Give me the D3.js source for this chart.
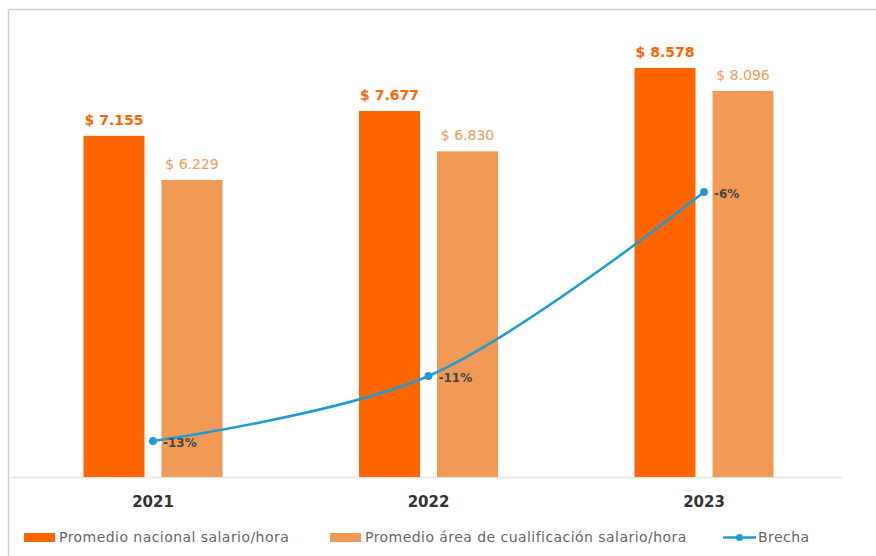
<!DOCTYPE html>
<html>
<head>
<meta charset="utf-8">
<script src="https://cdn.jsdelivr.net/npm/d3@7"></script>
<style>
  html, body { margin: 0; padding: 0; background: #fff; }
  svg { display: block; }
  text { font-family: "DejaVu Sans", sans-serif; }
</style>
</head>
<body>
<svg id="chart" width="876" height="556"></svg>
<script>
const years = ["2021", "2022", "2023"];
const nacional = [7155, 7677, 8578];
const area = [6229, 6830, 8096];
const brecha = [-12.94, -11.03, -5.62];
const brechaLabels = ["-13%", "-11%", "-6%"];
const seriesNames = ["Promedio nacional salario/hora", "Promedio área de cualificación salario/hora", "Brecha"];
const colorNacional = "#ff6600";
const colorArea = "#f19a56";
const colorBrecha = "#1f9ad6";

const fmt = v => "$ " + d3.format(",")(v).replace(/,/g, ".");

const svg = d3.select("#chart");

// frame lines (top + left)
svg.append("line").attr("x1", 8.5).attr("x2", 876).attr("y1", 9.5).attr("y2", 9.5)
  .attr("stroke", "#cfcfcf").attr("stroke-width", 1.5);
svg.append("line").attr("x1", 8.5).attr("x2", 8.5).attr("y1", 9.5).attr("y2", 556)
  .attr("stroke", "#cfcfcf").attr("stroke-width", 1.5);

const x0 = d3.scaleBand().domain(years).range([15.25, 841.75]).padding(0);
const bw = x0.bandwidth();
const x1 = d3.scaleBand().domain(["nacional", "area"]).range([bw / 2 - 69.5, bw / 2 + 69.5])
  .paddingInner(0.218).paddingOuter(0);
const y = d3.scaleLinear().domain([0, 10000]).range([477, 0.2]);
const y2 = d3.scaleLinear().domain([-14, 0]).range([477, 1]);

// baseline
svg.append("line").attr("x1", 10).attr("x2", 842).attr("y1", 477.5).attr("y2", 477.5)
  .attr("stroke", "#e4e4e4").attr("stroke-width", 1.5);

const rows = years.map((yr, i) => ({ yr, nacional: nacional[i], area: area[i], brecha: brecha[i], bl: brechaLabels[i] }));

const g = svg.append("g");
const groups = g.selectAll("g.cat").data(rows).join("g")
  .attr("transform", d => `translate(${x0(d.yr)},0)`);

groups.append("rect")
  .attr("x", x1("nacional")).attr("width", x1.bandwidth())
  .attr("y", d => y(d.nacional)).attr("height", d => y(0) - y(d.nacional))
  .attr("fill", colorNacional);
groups.append("rect")
  .attr("x", x1("area")).attr("width", x1.bandwidth())
  .attr("y", d => y(d.area)).attr("height", d => y(0) - y(d.area))
  .attr("fill", colorArea);

groups.append("text")
  .attr("x", x1("nacional") + x1.bandwidth() / 2)
  .attr("y", d => y(d.nacional) - 16)
  .attr("dy", "0.35em")
  .attr("text-anchor", "middle")
  .attr("font-size", 14).attr("font-weight", "bold")
  .attr("fill", colorNacional)
  .text(d => fmt(d.nacional));
groups.append("text")
  .attr("x", x1("area") + x1.bandwidth() / 2)
  .attr("y", d => y(d.area) - 16)
  .attr("dy", "0.35em")
  .attr("text-anchor", "middle")
  .attr("font-size", 14)
  .attr("fill", colorArea)
  .text(d => fmt(d.area));

// x axis labels
const xAxis = d3.axisBottom(x0).tickSize(0).tickPadding(0);
const ax = svg.append("g").attr("transform", "translate(0,502)").call(xAxis);
ax.select(".domain").remove();
ax.selectAll("text")
  .attr("dy", "0.35em").attr("y", 0)
  .attr("font-family", "DejaVu Sans, sans-serif")
  .attr("font-size", 15).attr("font-weight", "bold").attr("fill", "#333333");

// brecha line
const cx = d => x0(d.yr) + bw / 2;
const line = d3.line().x(cx).y(d => y2(d.brecha)).curve(d3.curveCatmullRom.alpha(0.5));
svg.append("path").datum(rows)
  .attr("d", line).attr("fill", "none")
  .attr("stroke", colorBrecha).attr("stroke-width", 2.5);
svg.selectAll("circle.pt").data(rows).join("circle")
  .attr("cx", cx).attr("cy", d => y2(d.brecha)).attr("r", 4)
  .attr("fill", colorBrecha);
svg.selectAll("text.bl").data(rows).join("text")
  .attr("x", d => cx(d) + 10).attr("y", d => y2(d.brecha) + 2)
  .attr("dy", "0.35em")
  .attr("font-size", 12).attr("font-weight", "bold").attr("fill", "#444444")
  .text(d => d.bl);

// legend
const legY = 537.5;
const leg = svg.append("g");
const legItems = [
  { x: 24, type: "rect", color: colorNacional, name: seriesNames[0] },
  { x: 330, type: "rect", color: colorArea, name: seriesNames[1] },
  { x: 723, type: "line", color: colorBrecha, name: seriesNames[2] }
];
legItems.forEach(it => {
  if (it.type === "rect") {
    leg.append("rect").attr("x", it.x).attr("y", legY - 4.5).attr("width", 31).attr("height", 9).attr("fill", it.color);
  } else {
    leg.append("line").attr("x1", it.x).attr("x2", it.x + 33).attr("y1", legY).attr("y2", legY)
      .attr("stroke", it.color).attr("stroke-width", 2.5);
    leg.append("circle").attr("cx", it.x + 16.5).attr("cy", legY).attr("r", 3.5).attr("fill", it.color);
  }
  leg.append("text").attr("x", it.x + 35).attr("y", legY)
    .attr("dy", "0.35em").attr("font-size", 14).attr("letter-spacing", 0.45).attr("fill", "#666666")
    .text(it.name);
});
</script>
</body>
</html>
